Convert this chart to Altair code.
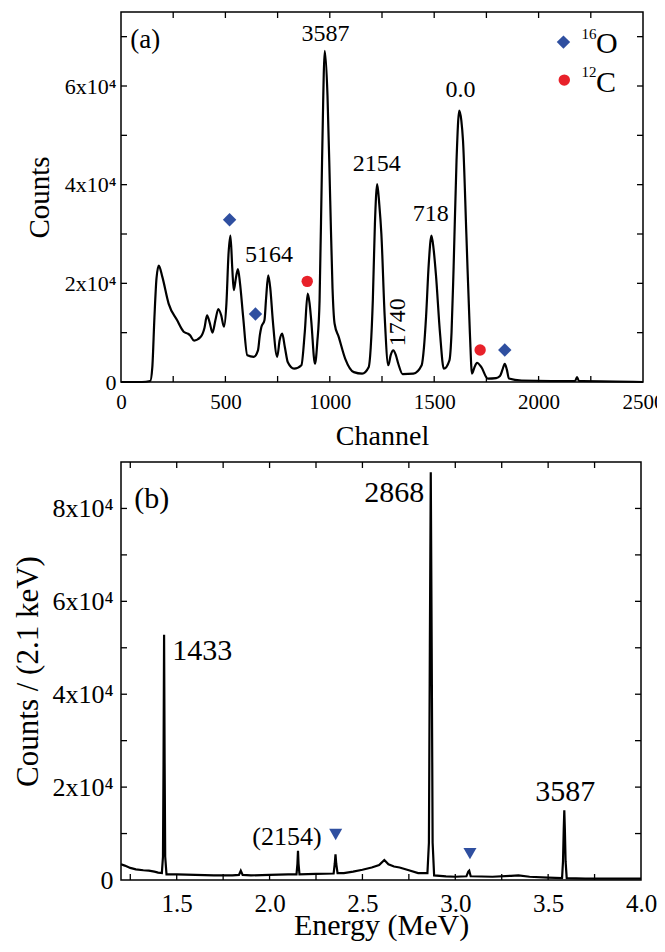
import altair as alt
import pandas as pd

FONT = "'Liberation Serif', 'Times New Roman', Times, serif"
BLUE = "#2f4fa0"
RED = "#e8212a"

# ---------------- Panel (a): channel spectrum ----------------
ch_a = [0, 100, 140, 150, 160, 170, 181, 198, 228, 269,
        300, 320, 330, 350, 381, 400, 412, 425, 438, 452,
        466, 480, 493, 505, 515, 524, 533, 540, 550, 560,
        570, 585, 605, 636, 656, 665, 672, 687, 695, 705,
        715, 727, 748, 760, 772, 785, 799, 829, 864, 880,
        894, 903, 911, 929, 940, 951, 963, 976, 989, 1002,
        1013, 1023, 1043, 1074, 1115, 1155, 1186, 1196, 1206, 1216,
        1227, 1237, 1247, 1263, 1280, 1292, 1304, 1316, 1328, 1349,
        1400, 1440, 1451, 1461, 1474, 1487, 1497, 1508, 1528, 1546,
        1573, 1583, 1593, 1607, 1620, 1630, 1638, 1654, 1671, 1681,
        1693, 1705, 1726, 1756, 1797, 1815, 1827, 1838, 1848, 1858,
        1919, 2062, 2175, 2184, 2193, 2210, 2500]
counts_a = [0, 0, 200, 3000, 13000, 21000, 23600, 21300, 15900, 12500,
            10200, 9800, 9500, 8400, 9100, 11000, 13500, 12000, 10000, 12500,
            14800, 13500, 11200, 16000, 26000, 29700, 23000, 18600, 21000, 22900,
            20000, 13200, 5400, 5100, 6400, 9500, 11100, 12500, 17000, 21600,
            19000, 12500, 5100, 8500, 9800, 7000, 4000, 2700, 3400, 10000,
            17900, 16000, 12500, 3700, 8000, 16500, 45000, 67100, 58000, 36800,
            19000, 11800, 9100, 4700, 2000, 1700, 3000, 7000, 16500, 32000,
            40100, 36000, 30000, 13200, 3400, 5500, 6400, 5500, 3700, 1600,
            1700, 3400, 7000, 13200, 24000, 29700, 27000, 21900, 9800, 2700,
            4400, 10000, 23300, 45000, 55000, 53000, 48900, 30000, 9800, 1700,
            3000, 3900, 3000, 700, 800, 1200, 2500, 3700, 2500, 700,
            300, 200, 200, 1000, 200, 200, 0]

diam_a_x = [520, 644, 1838]
diam_a_y = [32900, 13800, 6500]
circ_a_x = [892, 1720]
circ_a_y = [20400, 6500]

lab_a_text = ["3587", "5164", "2154", "718", "0.0"]
lab_a_x = [980, 709, 1225, 1483, 1626]
lab_a_y = [70500, 25800, 44200, 34100, 59200]

rot_a_text = ["1740"]
rot_a_x = [1328]
rot_a_y = [12100]

panel_a_text = ["(a)"]
panel_a_x = [116]
panel_a_y = [69300]

leg_sym_x = [2119, 2123]
leg_sym_y = [68900, 61200]
leg_sup_text = ["16", "12"]
leg_sup_x = [2241, 2241]
leg_sup_y = [70500, 62800]
leg_main_text = ["O", "C"]
leg_main_x = [2327, 2323]
leg_main_y = [68500, 60700]

xticks_a = [250, 500, 750, 1000, 1250, 1500, 1750, 2000, 2250]
yticks_a = [10000, 20000, 30000, 40000, 50000, 60000, 70000]
xlabels_a = [0, 500, 1000, 1500, 2000, 2500]
ylabels_a = [0, 20000, 40000, 60000]

# ---------------- Panel (b): energy spectrum ----------------
e_b = [1.200, 1.220, 1.250, 1.280, 1.320, 1.350, 1.380, 1.400, 1.420, 1.426,
       1.429, 1.432, 1.435, 1.438, 1.445, 1.500, 1.600, 1.700, 1.800, 1.835,
       1.845, 1.855, 1.900, 2.000, 2.100, 2.145, 2.150, 2.153, 2.156, 2.161,
       2.250, 2.345, 2.351, 2.355, 2.359, 2.366, 2.400, 2.450, 2.500, 2.550,
       2.590, 2.618, 2.640, 2.670, 2.700, 2.750, 2.800, 2.850, 2.858, 2.863,
       2.868, 2.873, 2.878, 2.886, 2.950, 3.000, 3.060, 3.070, 3.075, 3.083,
       3.200, 3.300, 3.340, 3.400, 3.500, 3.575, 3.580, 3.584, 3.587, 3.590,
       3.594, 3.600, 3.700, 3.800, 4.000]
counts_b = [3400, 3100, 2600, 2300, 2100, 2000, 1800, 1600, 1500, 5000,
            25000, 52800, 25000, 5000, 1200, 1200, 1100, 1000, 1000, 1100,
            2000, 1100, 1000, 1100, 1200, 1200, 3500, 6300, 3500, 1200,
            1300, 1400, 3500, 5500, 3500, 1500, 1500, 1800, 2200, 2700,
            3200, 4300, 3400, 2900, 2700, 2100, 1500, 1500, 8000, 50000,
            87800, 50000, 8000, 1000, 800, 700, 800, 1800, 2000, 800,
            700, 900, 1000, 700, 500, 400, 4000, 11000, 15000, 11000,
            4000, 400, 300, 300, 300]

tri_b_x = [2.356, 3.079]
tri_b_y = [9800, 5700]

lab_b_text = ["2868", "1433", "3587"]
lab_b_x = [2.671, 1.638, 3.592]
lab_b_y = [83400, 49300, 19000]

small_b_text = ["(2154)"]
small_b_x = [2.094]
small_b_y = [9200]

panel_b_text = ["(b)"]
panel_b_x = [1.365]
panel_b_y = [82100]

xticks_b = [1.25, 1.5, 1.75, 2.0, 2.25, 2.5, 2.75, 3.0, 3.25, 3.5, 3.75]
yticks_b = [10000, 20000, 30000, 40000, 50000, 60000, 70000, 80000]
xlabels_b = [1.5, 2.0, 2.5, 3.0, 3.5, 4.0]
ylabels_b = [0, 20000, 40000, 60000, 80000]

# ---------------- layout constants ----------------
W1 = 522
W2 = 520
H1 = 370
H2 = 418
TL = 6  # inward tick length

sup_expr = "datum.value == 0 ? '0' : format(datum.value / 10000, 'd') + 'x10\u2074'"


def panel(df_line, xf, yf, xs, ys, xax, yax, W, H, xt, yt, interp):
    X = lambda f: alt.X(f, scale=xs, axis=xax)
    Y = lambda f: alt.Y(f, scale=ys, axis=yax)
    line = alt.Chart(df_line).mark_line(color="black", strokeWidth=2.2, interpolate=interp).encode(
        x=X(xf), y=Y(yf))
    dxt = pd.DataFrame({"v": xt})
    dyt = pd.DataFrame({"v": yt})
    rule = dict(color="black", strokeWidth=1.3)
    t_bot = alt.Chart(dxt).mark_rule(**rule).encode(x=X("v:Q"), y=alt.value(H), y2=alt.value(H - TL))
    t_top = alt.Chart(dxt).mark_rule(**rule).encode(x=X("v:Q"), y=alt.value(0), y2=alt.value(TL))
    t_lft = alt.Chart(dyt).mark_rule(**rule).encode(y=Y("v:Q"), x=alt.value(0), x2=alt.value(TL))
    t_rgt = alt.Chart(dyt).mark_rule(**rule).encode(y=Y("v:Q"), x=alt.value(W - TL), x2=alt.value(W))
    return [line, t_bot, t_top, t_lft, t_rgt], X, Y


def txt(xs_, ys_, ts_, X, Y, size, **kw):
    d = pd.DataFrame({"x": xs_, "y": ys_, "t": ts_})
    return alt.Chart(d).mark_text(font=FONT, fontSize=size, color="black", **kw).encode(
        x=X("x:Q"), y=Y("y:Q"), text="t:N")


def sym(xs_, ys_, X, Y, shape, color, size):
    d = pd.DataFrame({"x": xs_, "y": ys_})
    return alt.Chart(d).mark_point(shape=shape, filled=True, color=color, size=size, opacity=1).encode(
        x=X("x:Q"), y=Y("y:Q"))


# Panel (a)
xs_a = alt.Scale(domain=[0, 2500], nice=False, zero=False)
ys_a = alt.Scale(domain=[0, 75000], nice=False, zero=False)
xax_a = alt.Axis(values=xlabels_a, format="d", ticks=False, domain=False, grid=False,
                 labelFontSize=21, labelPadding=9, labelFlush=False, labelOverlap=False,
                 title="Channel", titleFontSize=28, titleFontWeight="normal",
                 titleY=54, titleBaseline="middle")
yax_a = alt.Axis(values=ylabels_a, labelExpr=sup_expr, ticks=False, domain=False, grid=False,
                 labelFontSize=22, labelPadding=5, labelOverlap=False,
                 title="Counts", titleFontSize=29, titleFontWeight="normal",
                 titleX=-82, titleBaseline="middle")
df_a = pd.DataFrame({"ch": ch_a, "cnt": counts_a})
layers_a, XA, YA = panel(df_a, "ch:Q", "cnt:Q", xs_a, ys_a, xax_a, yax_a, W1, H1,
                         xticks_a, yticks_a, "monotone")
layers_a += [
    sym(diam_a_x, diam_a_y, XA, YA, "diamond", BLUE, 180),
    sym(circ_a_x, circ_a_y, XA, YA, "circle", RED, 130),
    sym(leg_sym_x[:1], leg_sym_y[:1], XA, YA, "diamond", BLUE, 180),
    sym(leg_sym_x[1:], leg_sym_y[1:], XA, YA, "circle", RED, 130),
    txt(lab_a_x, lab_a_y, lab_a_text, XA, YA, 24),
    txt(rot_a_x, rot_a_y, rot_a_text, XA, YA, 24, angle=270),
    txt(panel_a_x, panel_a_y, panel_a_text, XA, YA, 27),
    txt(leg_sup_x, leg_sup_y, leg_sup_text, XA, YA, 15),
    txt(leg_main_x, leg_main_y, leg_main_text, XA, YA, 30),
]
chart_a = alt.layer(*layers_a).properties(width=W1, height=H1)

# Panel (b)
xs_b = alt.Scale(domain=[1.2, 4.0], nice=False, zero=False)
ys_b = alt.Scale(domain=[0, 90000], nice=False, zero=False)
xax_b = alt.Axis(values=xlabels_b, format=".1f", ticks=False, domain=False, grid=False,
                 labelFontSize=25, labelPadding=11, labelFlush=False, labelOverlap=False,
                 title="Energy (MeV)", titleFontSize=30, titleFontWeight="normal",
                 titleY=45, titleBaseline="middle")
yax_b = alt.Axis(values=ylabels_b, labelExpr=sup_expr, ticks=False, domain=False, grid=False,
                 labelFontSize=26, labelPadding=8, labelOverlap=False,
                 title="Counts / (2.1 keV)", titleFontSize=31, titleFontWeight="normal",
                 titleX=-93, titleBaseline="middle")
df_b = pd.DataFrame({"e": e_b, "cnt": counts_b})
layers_b, XB, YB = panel(df_b, "e:Q", "cnt:Q", xs_b, ys_b, xax_b, yax_b, W2, H2,
                         xticks_b, yticks_b, "linear")
layers_b += [
    sym(tri_b_x, tri_b_y, XB, YB, "triangle-down", BLUE, 170),
    txt(lab_b_x, lab_b_y, lab_b_text, XB, YB, 30),
    txt(small_b_x, small_b_y, small_b_text, XB, YB, 26),
    txt(panel_b_x, panel_b_y, panel_b_text, XB, YB, 30),
]
chart_b = alt.layer(*layers_b).properties(width=W2, height=H2)

PL, PT = 113, 4
chart = alt.vconcat(chart_a, chart_b, spacing=9).properties(
    autosize=alt.AutoSizeParams(type="none"),
    padding={"left": PL, "top": PT, "right": 649 - PL, "bottom": 936 - PT},
).configure(font=FONT).configure_view(stroke="black", strokeWidth=1.5).configure_axis(
    labelColor="black", titleColor="black", labelFont=FONT, titleFont=FONT)

chart.save("out.html", embed_options={"renderer": "svg", "actions": False})
